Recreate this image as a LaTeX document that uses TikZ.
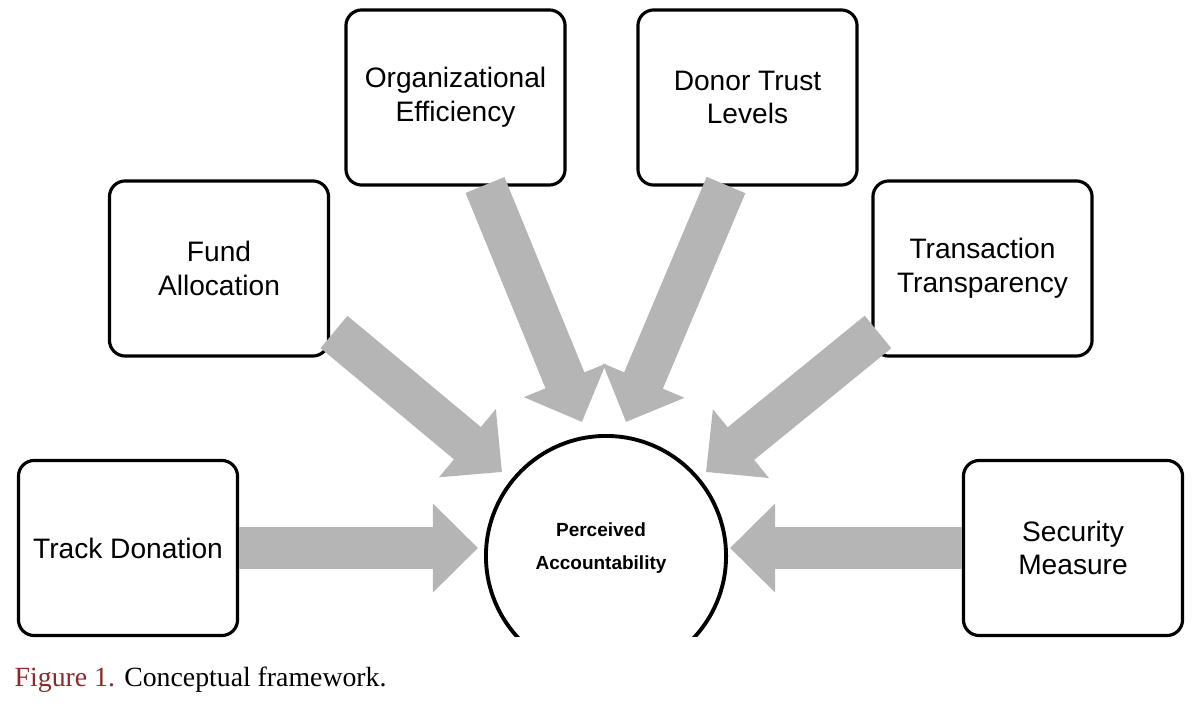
\documentclass[tikz,border=0pt]{standalone}
\usepackage{fontspec}
\setmainfont{Liberation Serif}
\newfontfamily\boxfont{Liberation Sans}
\usetikzlibrary{arrows.meta}
\definecolor{arrgray}{HTML}{B5B5B5}
\definecolor{capred}{HTML}{8B2A2A}
\begin{document}
\begin{tikzpicture}[x=0.01cm,y=-0.01cm,
  box/.style={draw,line width=0.9pt,rounded corners=4.5pt,minimum width=2.19cm,minimum height=1.75cm,
    align=center,font=\boxfont\fontsize{8pt}{9.6pt}\selectfont,inner sep=1pt},
  fat/.style={draw=arrgray,line width=0.42cm,-{Triangle[length=0.45cm,width=0.86cm]},shorten >=0pt}
]
\useasboundingbox (0,0) rectangle (1200,712);
\fill[white] (0,0) rectangle (1200,712);
% boxes
\node[box] (track) at (128,548) {Track Donation};
\node[box] (fund) at (219,268.5) {Fund\\Allocation};
\node[box] (org) at (455.5,97.5) {Organizational\\Efficiency};
\node[box] (donor) at (747.5,97.5) {Donor Trust\\Levels};
\node[box] (trans) at (982.5,268.5) {Transaction\\Transparency};
\node[box] (sec) at (1073,548) {Security\\Measure};
% targets
\coordinate (c) at (606,556);
\coordinate (tT) at (478,548);
\coordinate (tS) at (730,548);
\coordinate (tF) at (502,472);
\coordinate (tO) at (582,422);
\coordinate (tD) at (626,422);
\coordinate (tR) at (706,472);
% arrows
\draw[fat] (track.east) -- (tT);
\draw[fat] (sec.west) -- (tS);
\draw[fat] (334,332) -- (tF);
\draw[fat] (485,185) -- (tO);
\draw[fat] (726,185) -- (tD);
\draw[fat] (878,332) -- (tR);
% circle
\begin{scope}
\clip (400,400) rectangle (800,636);
\node[draw,line width=1.1pt,fill=white,circle,minimum size=2.4cm] (acc) at (c) {};
\end{scope}
\node[align=center,font=\boxfont\bfseries\fontsize{5.4pt}{9.5pt}\selectfont] (acct) at (601,548) {Perceived\\Accountability};
% caption
\node[anchor=west,font=\fontsize{7.9pt}{9pt}\selectfont,inner sep=0pt] (cap) at (14,680)
  {\textcolor{capred}{Figure 1.} Conceptual framework.};
\end{tikzpicture}
\end{document}
